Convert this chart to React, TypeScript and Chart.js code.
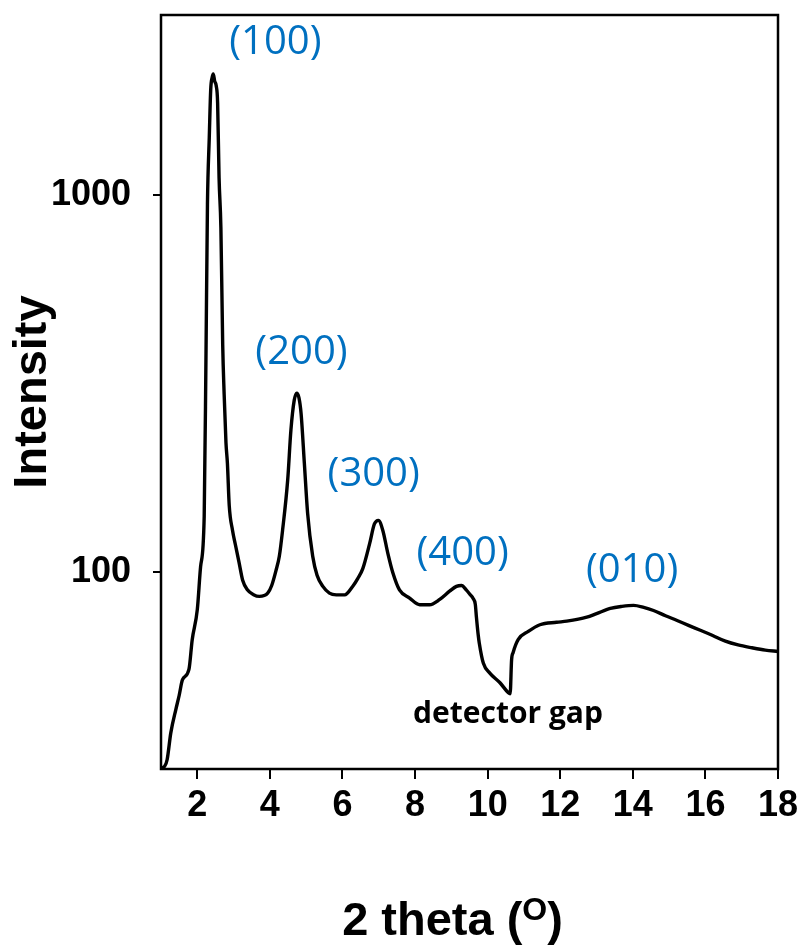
import React, { useEffect, useRef } from "react";
import { Chart, registerables } from "chart.js";

Chart.register(...registerables);

// 2 theta (degrees)
const twoTheta = [
  1.0, 1.1, 1.17, 1.27, 1.41, 1.5, 1.59, 1.77, 1.86, 2.0, 2.09, 2.19, 2.24, 2.28, 2.33, 2.37, 2.41, 2.44, 2.48, 2.52,
  2.56, 2.6, 2.65, 2.7, 2.74, 2.79, 2.83, 2.88, 2.97, 3.05, 3.15, 3.25, 3.38, 3.55, 3.71, 3.94, 4.05, 4.17, 4.26, 4.35,
  4.49, 4.58, 4.67, 4.74, 4.8, 4.86, 4.95, 5.04, 5.18, 5.3, 5.46, 5.64, 5.83, 6.06, 6.28, 6.42, 6.56, 6.75, 6.88, 6.99,
  7.11, 7.25, 7.39, 7.57, 7.85, 8.13, 8.4, 8.68, 8.96, 9.14, 9.28, 9.41, 9.52, 9.6, 9.66, 9.69, 9.74, 9.77, 9.88, 10.06,
  10.34, 10.57, 10.62, 10.66, 10.7, 10.84, 11.12, 11.44, 11.9, 12.18, 12.73, 13.0, 13.38, 13.7, 14.02, 14.3, 14.57, 14.9,
  15.22, 15.55, 15.86, 16.2, 16.55, 16.9, 17.28, 17.65, 18.0,
];

// Intensity (log scale)
const intensity = [
  30.2, 30.5, 31.8, 37.4, 43.2, 47, 51.7, 55.1, 66.1, 79.4, 103, 140, 380, 944, 1419, 1905, 2050, 2094, 2000, 1950,
  1754, 1111, 819, 400, 296, 220, 194, 150, 129, 118, 106, 95, 89.6, 87, 86.1, 87.8, 92, 101, 110, 129,
  175, 238, 285, 298, 290, 263, 194, 143, 110, 98, 91.5, 87.8, 86.9, 86.9, 91.5, 96, 102, 119, 134, 137,
  129, 112, 99.3, 89.6, 85.2, 81.8, 81.8, 84.5, 89, 91.5, 92, 89.6, 87, 85, 82, 76, 68, 64.7, 57.3, 53.9,
  50.8, 47.8, 47.5, 58.5, 61, 66.1, 69.5, 72.4, 73.5, 74, 75.8, 77.5, 80, 81, 81.5, 80.5, 79, 76.5,
  74.3, 72, 70, 67.8, 65.5, 64, 62.9, 62, 61.5,
];

const xTickValues = [2, 4, 6, 8, 10, 12, 14, 16, 18];
const yTickValues = [100, 1000];

const peakLabels = ["(100)", "(200)", "(300)", "(400)", "(010)"];
const peakLabelX = [4.15, 4.87, 6.86, 9.31, 13.98];
const peakLabelY = [2541, 382, 181, 112, 101];

const gapLabel = "detector gap";
const gapLabelX = 10.56;
const gapLabelY = 41.9;

const xTitleMain = "2 theta (";
const xTitleSup = "O";
const xTitleEnd = ")";
const yTitle = "Intensity";

const AXIS_FONT = "'Liberation Sans', Arial, sans-serif";
const LABEL_FONT = "'Open Sans', 'Noto Sans', sans-serif";

const framePlugin = {
  id: "frame",
  afterDraw(chart: any) {
    const { ctx, chartArea } = chart;
    ctx.save();
    ctx.strokeStyle = "#000";
    ctx.lineWidth = 2.5;
    ctx.strokeRect(chartArea.left, chartArea.top, chartArea.right - chartArea.left, chartArea.bottom - chartArea.top);
    ctx.restore();
  },
};

const textPlugin = {
  id: "texts",
  afterDraw(chart: any) {
    const { ctx, chartArea } = chart;
    const xs = chart.scales.x;
    const ys = chart.scales.y;
    ctx.save();
    ctx.textAlign = "center";
    ctx.textBaseline = "middle";
    ctx.fillStyle = "#0070C0";
    ctx.font = `40px ${LABEL_FONT}`;
    peakLabels.forEach((t, i) => {
      ctx.fillText(t, xs.getPixelForValue(peakLabelX[i]), ys.getPixelForValue(peakLabelY[i]));
    });
    ctx.fillStyle = "#000";
    ctx.font = `bold 30px ${LABEL_FONT}`;
    ctx.fillText(gapLabel, xs.getPixelForValue(gapLabelX), ys.getPixelForValue(gapLabelY));

    // x axis title with superscript
    const mainFont = `bold 47px ${AXIS_FONT}`;
    const supFont = `bold 32px ${AXIS_FONT}`;
    ctx.textAlign = "left";
    ctx.textBaseline = "alphabetic";
    ctx.font = mainFont;
    const w1 = ctx.measureText(xTitleMain).width;
    const w3 = ctx.measureText(xTitleEnd).width;
    ctx.font = supFont;
    const w2 = ctx.measureText(xTitleSup).width;
    const total = w1 + w2 + w3;
    const cx = (chartArea.left + chartArea.right) / 2 - 17;
    const baseY = 935;
    let x = cx - total / 2;
    ctx.font = mainFont;
    ctx.fillText(xTitleMain, x, baseY);
    x += w1;
    ctx.font = supFont;
    ctx.fillText(xTitleSup, x, baseY - 15);
    x += w2;
    ctx.font = mainFont;
    ctx.fillText(xTitleEnd, x, baseY);
    ctx.restore();
  },
};

export default function App() {
  const canvasRef = useRef<HTMLCanvasElement | null>(null);

  useEffect(() => {
    document.body.style.margin = "0";
    const canvas = canvasRef.current;
    if (!canvas) return;
    const chart = new Chart(canvas, {
      type: "line",
      data: {
        datasets: [
          {
            data: twoTheta.map((x, i) => ({ x, y: intensity[i] })),
            borderColor: "#000",
            borderWidth: 3.4,
            pointRadius: 0,
            cubicInterpolationMode: "monotone",
            fill: false,
          },
        ],
      },
      options: {
        responsive: false,
        animation: false,
        layout: { padding: { top: 15, right: 26, left: 0, bottom: 0 } },
        plugins: { legend: { display: false }, tooltip: { enabled: false } },
        scales: {
          x: {
            type: "linear",
            min: 1,
            max: 18,
            afterBuildTicks: (s: any) => {
              s.ticks = xTickValues.map((v) => ({ value: v }));
            },
            afterFit: (s: any) => {
              s.height = 176;
              s.paddingLeft = 0;
              s.paddingRight = 0;
            },
            grid: { drawOnChartArea: false, drawTicks: true, tickLength: 10, color: "#000", lineWidth: 2 },
            border: { display: false },
            ticks: {
              font: { family: AXIS_FONT, size: 36, weight: "bold" },
              color: "#000",
              padding: 5,
              maxRotation: 0,
              autoSkip: false,
              callback: (v: any) => String(v),
            },
          },
          y: {
            type: "logarithmic",
            min: 30,
            max: 3000,
            afterBuildTicks: (s: any) => {
              s.ticks = yTickValues.map((v) => ({ value: v }));
            },
            afterFit: (s: any) => {
              s.width = 161;
              s.paddingTop = 0;
              s.paddingBottom = 0;
            },
            grid: { drawOnChartArea: false, drawTicks: true, tickLength: 8, color: "#000", lineWidth: 2 },
            border: { display: false },
            ticks: {
              font: { family: AXIS_FONT, size: 36, weight: "bold" },
              color: "#000",
              padding: 22,
              autoSkip: false,
              callback: (v: any) => String(v),
            },
            title: {
              display: true,
              text: yTitle,
              font: { family: AXIS_FONT, size: 47, weight: "bold" },
              color: "#000",
              padding: { top: 5, bottom: 0 },
            },
          },
        },
      },
      plugins: [framePlugin, textPlugin],
    });
    return () => chart.destroy();
  }, []);

  return (
    <div style={{ width: 804, height: 945 }}>
      <canvas ref={canvasRef} width={804} height={945} style={{ display: "block", width: 804, height: 945 }} />
    </div>
  );
}
